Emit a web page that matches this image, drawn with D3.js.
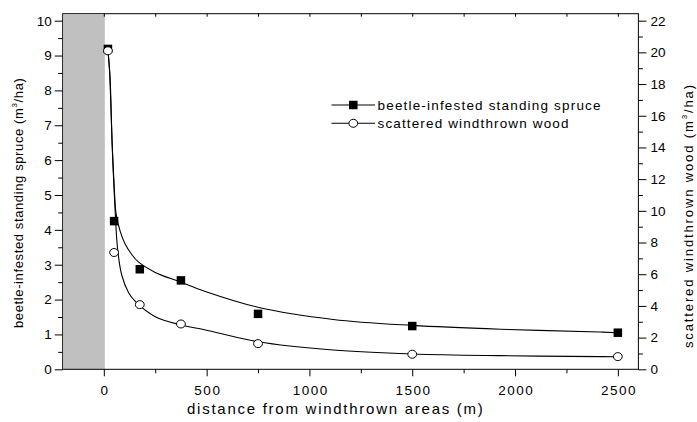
<!DOCTYPE html>
<html>
<head>
<meta charset="utf-8">
<script src="https://cdn.jsdelivr.net/npm/d3@7"></script>
<style>
  body { margin: 0; background: #fff; }
  svg text { font-family: "Liberation Sans", Arial, Helvetica, sans-serif; fill: #000; }
</style>
</head>
<body>
<svg id="chart" width="697" height="422"></svg>
<script>
// Sampled distances (m) and the two measured volumes
const distance = [20, 50, 175, 375, 750, 1500, 2500];
const spruceVolume = [9.19, 4.25, 2.87, 2.55, 1.59, 1.24, 1.05];      // left axis, m3/ha
const windthrowVolume = [20.1, 7.37, 4.08, 2.86, 1.62, 0.95, 0.80];   // right axis, m3/ha

// Fitted trend lines, read as point samples along each curve
const spruceFitX = [20, 25, 30, 40, 50, 60, 80, 103, 135, 168, 250, 375, 490, 750, 1116, 1500, 1930, 2413, 2500];
const spruceFitY = [9.15, 8.8, 8.3, 6.6, 5.3, 4.45, 3.95, 3.6, 3.3, 3.08, 2.78, 2.5, 2.24, 1.78, 1.43, 1.26, 1.15, 1.07, 1.05];
const windthrowFitX = [20, 30, 40, 55, 67, 87, 120, 152, 250, 375, 490, 750, 1116, 1500, 1930, 2413, 2500];
const windthrowFitY = [20.1, 18.5, 14.3, 10.0, 7.6, 5.95, 4.85, 4.3, 3.32, 2.8, 2.5, 1.74, 1.22, 0.97, 0.86, 0.8, 0.79];

// Axis ticks
const xTicks = [0, 500, 1000, 1500, 2000, 2500];
const xMinorTicks = [250, 750, 1250, 1750, 2250];
const leftTicks = [0, 1, 2, 3, 4, 5, 6, 7, 8, 9, 10];
const leftMinorTicks = [0.5, 1.5, 2.5, 3.5, 4.5, 5.5, 6.5, 7.5, 8.5, 9.5];
const rightTicks = [0, 2, 4, 6, 8, 10, 12, 14, 16, 18, 20, 22];
const rightMinorTicks = [1, 3, 5, 7, 9, 11, 13, 15, 17, 19, 21];

const svg = d3.select("#chart");
const plotLeft = 62.7, plotRight = 638.4, plotTop = 13.7, plotBottom = 369.3;

const x = d3.scaleLinear().domain([-200, 2600]).range([plotLeft, plotRight]);
const yL = d3.scaleLinear().domain([0, 10.2]).range([plotBottom, plotTop]);
const yR = d3.scaleLinear().domain([0, 22.44]).range([plotBottom, plotTop]);

// Stretch a text element's letter spacing so it spans a given width
function spanText(sel, width) {
  sel.each(function () {
    const n = this.getNumberOfChars();
    const natural = this.getComputedTextLength();
    const ls = (width - natural) / Math.max(1, n - 1);
    d3.select(this).attr("letter-spacing", ls.toFixed(2));
  });
}

// Grey band for the windthrown area itself (negative distances)
svg.append("rect")
  .attr("x", x(-200) + 1)
  .attr("y", yL(10.2) + 1)
  .attr("width", x(0) - x(-200))
  .attr("height", yL(0) - yL(10.2) - 1)
  .attr("fill", "#c0c0c0");

// Axes
function styleAxis(g) {
  g.select(".domain").remove();
  g.selectAll(".tick line").attr("stroke", "#000").attr("stroke-width", 1);
  g.selectAll(".tick text").attr("font-size", 13.5).attr("fill", "#000");
}

const gx = svg.append("g").attr("transform", `translate(0,${plotBottom})`)
  .call(d3.axisBottom(x).tickValues(xTicks).tickSize(7).tickPadding(9).tickFormat(d3.format("d")))
  .call(styleAxis);
gx.selectAll(".tick text").attr("letter-spacing", 1.5).attr("dx", 0.75);
svg.append("g").attr("transform", `translate(0,${plotBottom})`)
  .call(d3.axisBottom(x).tickValues(xMinorTicks).tickSize(4).tickFormat(""))
  .call(styleAxis);
// inward ticks on the top edge
svg.append("g").attr("transform", `translate(0,${plotTop})`)
  .call(d3.axisBottom(x).tickValues(xTicks.concat(xMinorTicks)).tickSize(3).tickFormat(""))
  .call(styleAxis);

svg.append("g").attr("transform", `translate(${plotLeft},0)`)
  .call(d3.axisLeft(yL).tickValues(leftTicks).tickSize(8).tickPadding(3).tickFormat(d3.format("d")))
  .call(styleAxis);
svg.append("g").attr("transform", `translate(${plotLeft},0)`)
  .call(d3.axisLeft(yL).tickValues(leftMinorTicks).tickSize(4.5).tickFormat(""))
  .call(styleAxis);

svg.append("g").attr("transform", `translate(${plotRight},0)`)
  .call(d3.axisRight(yR).tickValues(rightTicks).tickSize(8).tickPadding(4).tickFormat(d3.format("d")))
  .call(styleAxis);
svg.append("g").attr("transform", `translate(${plotRight},0)`)
  .call(d3.axisRight(yR).tickValues(rightMinorTicks).tickSize(4.5).tickFormat(""))
  .call(styleAxis);

// Plot frame
svg.append("rect")
  .attr("x", plotLeft).attr("y", plotTop)
  .attr("width", plotRight - plotLeft).attr("height", plotBottom - plotTop)
  .attr("fill", "none").attr("stroke", "#000").attr("stroke-width", 1);

// Fitted curves (smooth spline through the samples)
const spruceLine = d3.line().x(d => x(d[0])).y(d => yL(d[1])).curve(d3.curveCatmullRom.alpha(0.5));
const windLine = d3.line().x(d => x(d[0])).y(d => yR(d[1])).curve(d3.curveCatmullRom.alpha(0.5));

svg.append("path")
  .datum(d3.zip(spruceFitX, spruceFitY))
  .attr("d", spruceLine)
  .attr("fill", "none").attr("stroke", "#000").attr("stroke-width", 1.1);
svg.append("path")
  .datum(d3.zip(windthrowFitX, windthrowFitY))
  .attr("d", windLine)
  .attr("fill", "none").attr("stroke", "#000").attr("stroke-width", 1.1);

// Markers
const sq = 8.5;
svg.append("g").selectAll("rect")
  .data(d3.zip(distance, spruceVolume))
  .join("rect")
  .attr("x", d => x(d[0]) - sq / 2)
  .attr("y", d => yL(d[1]) - sq / 2)
  .attr("width", sq).attr("height", sq)
  .attr("fill", "#000");

svg.append("g").selectAll("ellipse")
  .data(d3.zip(distance, windthrowVolume))
  .join("ellipse")
  .attr("cx", d => x(d[0]))
  .attr("cy", d => yR(d[1]))
  .attr("rx", 4.4).attr("ry", 4)
  .attr("fill", "#fff").attr("stroke", "#000").attr("stroke-width", 1);

// Legend
const legend = svg.append("g");
const legendRows = [
  { label: "beetle-infested standing spruce", marker: "square", y: 105, width: 223 },
  { label: "scattered windthrown wood", marker: "circle", y: 123.3, width: 191 }
];
legendRows.forEach(r => {
  legend.append("line")
    .attr("x1", 331.5).attr("x2", 375).attr("y1", r.y).attr("y2", r.y)
    .attr("stroke", "#000").attr("stroke-width", 1.1);
  if (r.marker === "square") {
    legend.append("rect").attr("x", 353.3 - sq / 2).attr("y", r.y - sq / 2)
      .attr("width", sq).attr("height", sq).attr("fill", "#000");
  } else {
    legend.append("ellipse").attr("cx", 353.3).attr("cy", r.y).attr("rx", 4.4).attr("ry", 4)
      .attr("fill", "#fff").attr("stroke", "#000");
  }
  legend.append("text")
    .attr("x", 377.5).attr("y", r.y + 4.8)
    .attr("font-size", 13.5)
    .text(r.label)
    .call(spanText, r.width);
});

// Axis titles
svg.append("text")
  .attr("x", 187).attr("y", 414)
  .attr("font-size", 15)
  .text("distance from windthrown areas (m)")
  .call(spanText, 296);

function unitTitle(text, xPos, yStart, width) {
  const t = svg.append("text")
    .attr("transform", `translate(${xPos},${yStart}) rotate(-90)`)
    .attr("font-size", 13);
  t.append("tspan").text(text + " (m");
  t.append("tspan").attr("font-size", 8).attr("dy", -6).text("3");
  t.append("tspan").attr("dy", 6).text("/ha)");
  t.call(spanText, width);
  return t;
}
unitTitle("beetle-infested standing spruce", 22.5, 328, 250);
unitTitle("scattered windthrown wood", 692.5, 348, 263);
</script>
</body>
</html>
